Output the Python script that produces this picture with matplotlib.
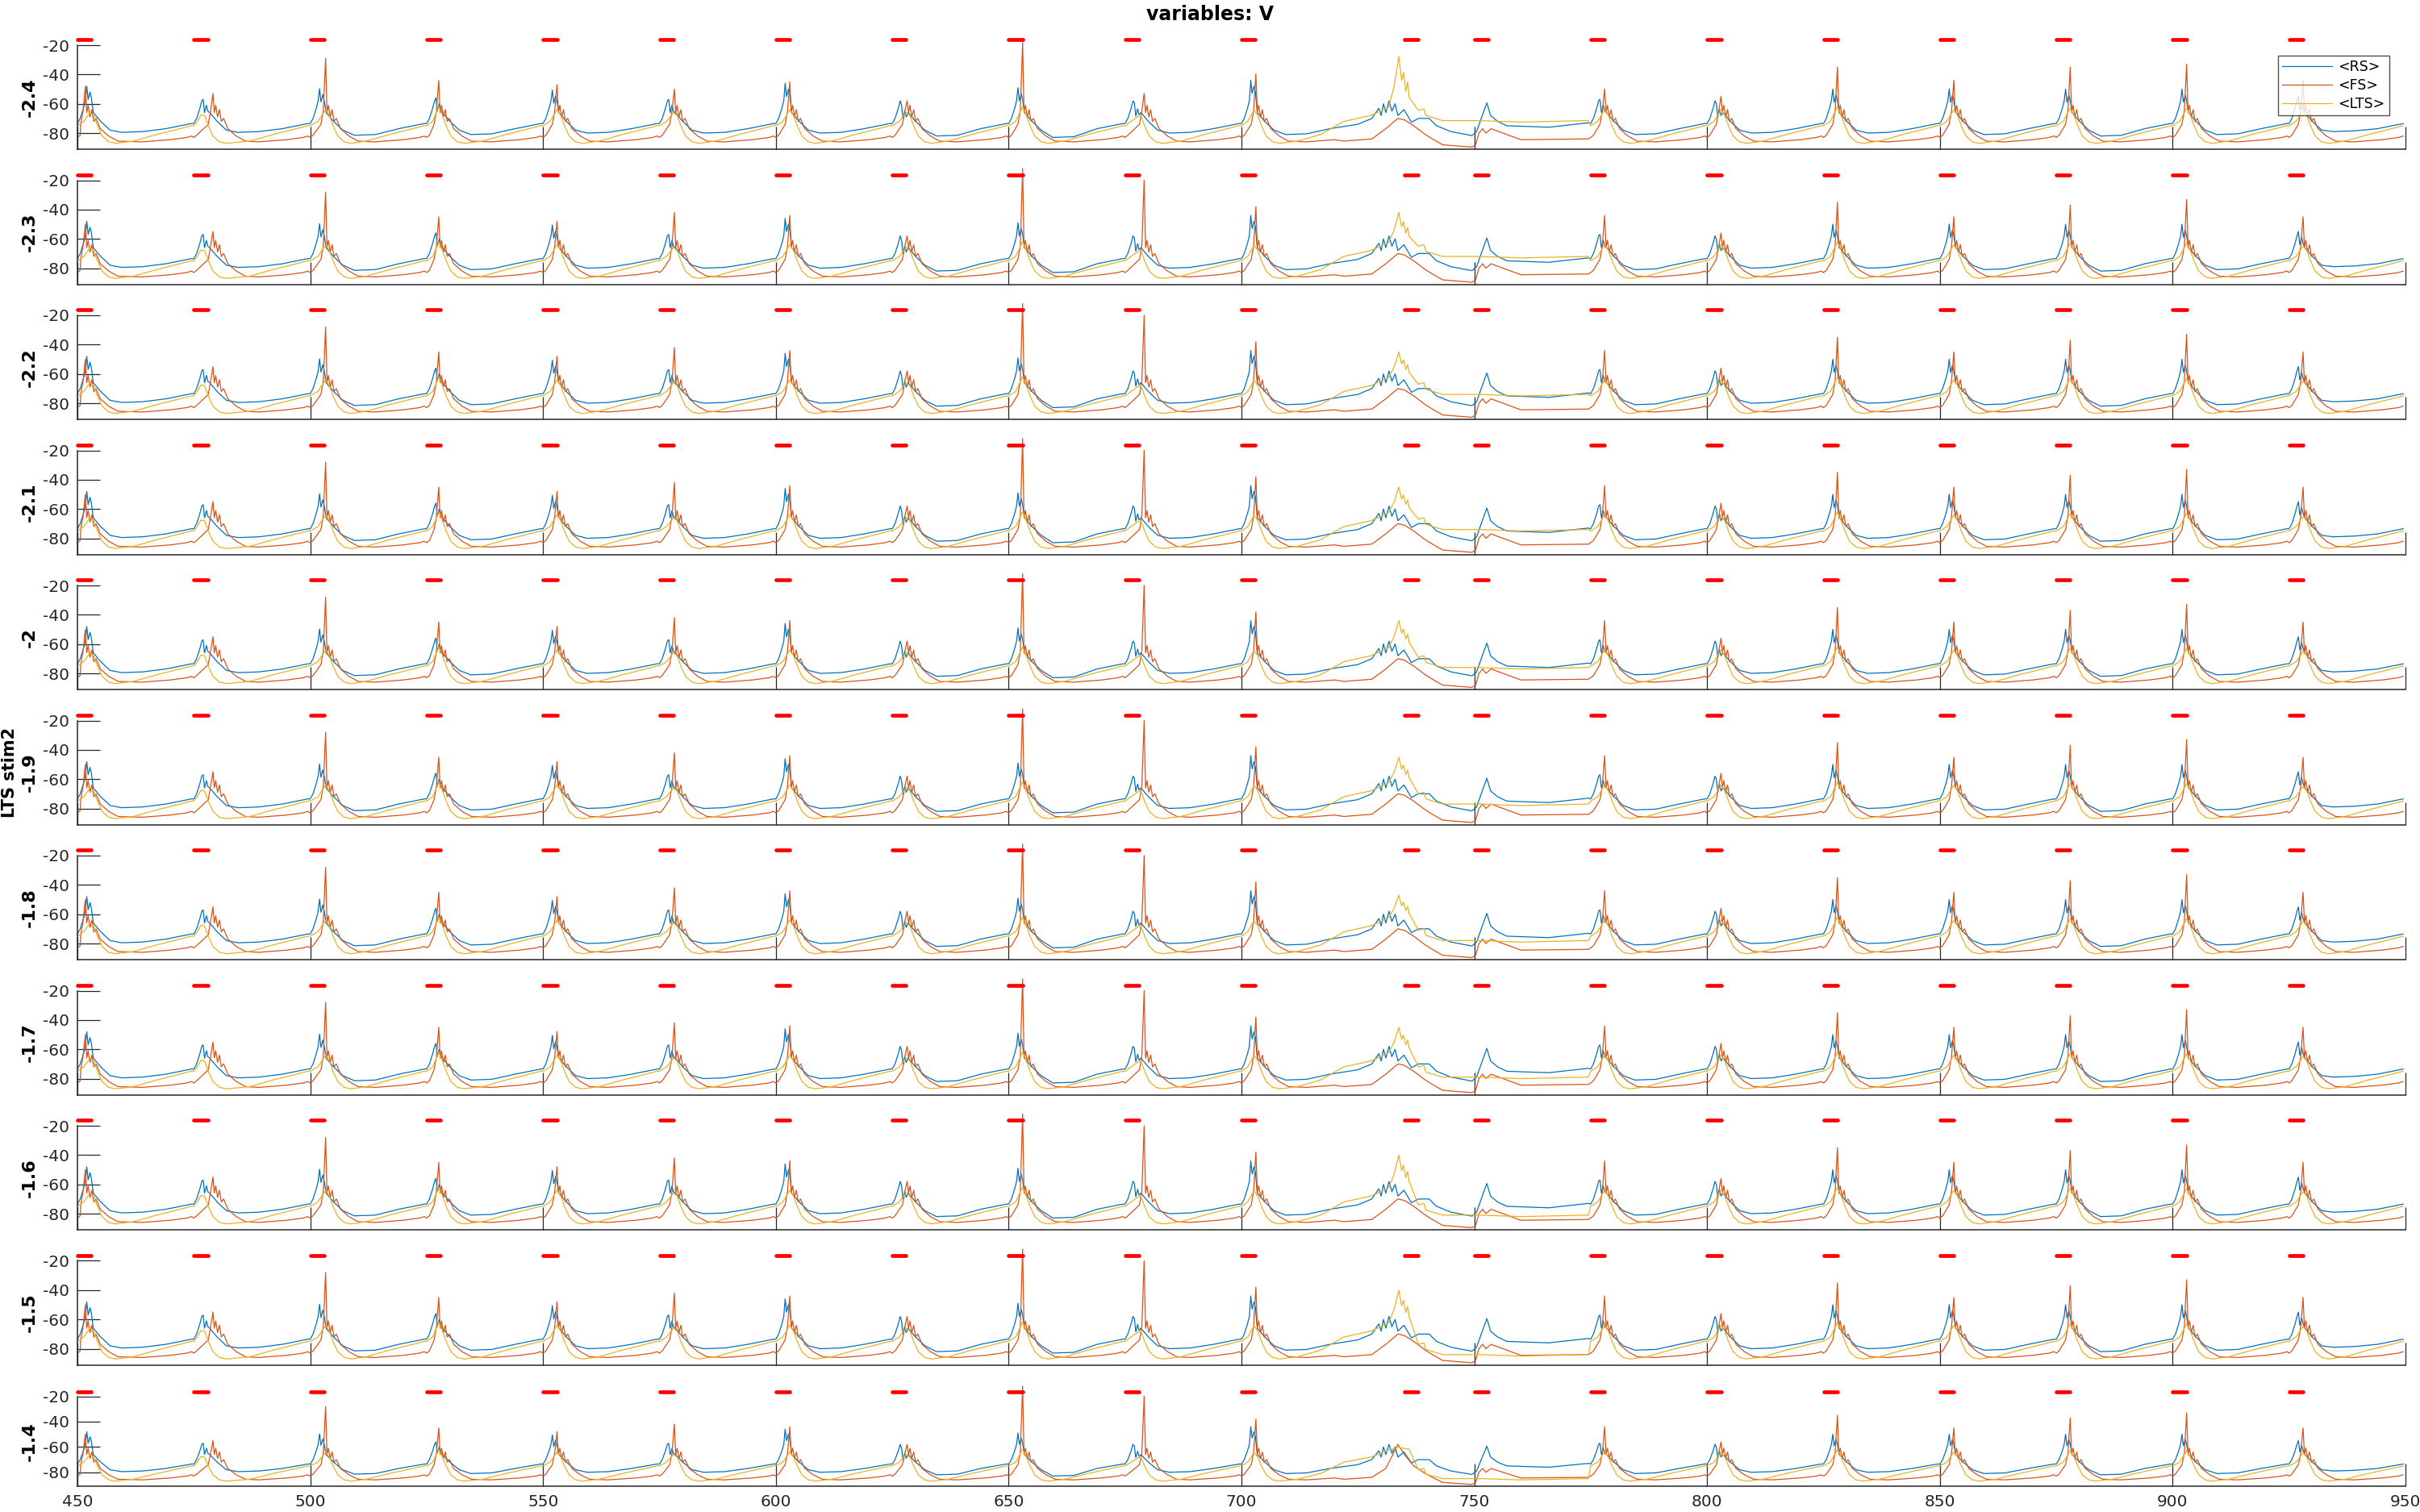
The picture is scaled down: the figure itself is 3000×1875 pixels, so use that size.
import numpy as np
import matplotlib
matplotlib.use("Agg")
import matplotlib.pyplot as plt

# ---- data ----
panel_labels = ['-2.4', '-2.3', '-2.2', '-2.1', '-2', '-1.9', '-1.8', '-1.7', '-1.6', '-1.5', '-1.4']
series_names = ['<RS>', '<FS>', '<LTS>']
colors = ['#0072BD', '#D95319', '#EDB120']

stim_times = [450, 475, 500, 525, 550, 575, 600, 625, 650, 675, 700, 735,
              750, 775, 800, 825, 850, 875, 900, 925]
stim_len = 3.0

# regular cycles (725 and 750 behave differently, see the *_anom arrays)
cycle_starts = [450, 475, 500, 525, 550, 575, 600, 625, 650, 675, 700,
                775, 800, 825, 850, 875, 900, 925]
rs_peak = [-48, -57, -49.7, -56, -50.6, -57, -46, -61, -49, -59.4, -44,
           -57, -60, -50, -50, -50, -50, -55]
rs_trough = [-79.5, -79.5, -81.5, -81, -80, -80, -80, -82, -83, -80, -81,
             -81, -80, -80, -81, -82, -81, -79]
fs_peak = [-48, -53, -29, -44, -47, -50, -45, -58, -18, -53, -39.6,
           -50, -55, -35, -44, -35, -33, -44]
fs_peak_low = [-50, -55, -28, -45, -48, -42, -44, -58, -12, -20, -38,
               -44, -56, -35, -45, -37, -33, -45]
fs_tpk = [1.7, 4.1, 3.3, 2.6, 3.0, 3.2, 3.0, 3.2, 3.0, 4.1, 3.1,
          3.0, 3.0, 3.0, 3.0, 3.0, 3.0, 3.0]
lts_peak = [-66, -67.6, -64, -62, -64, -66, -64, -66, -62, -69, -64.3,
            -64, -64, -62, -64, -63, -63, -65]
lts_tpk = [2.7, 1.5, 3.3, 2.6, 3.0, 3.0, 3.0, 3.0, 3.0, 2.6, 2.7,
           3.0, 3.0, 3.0, 3.0, 3.0, 3.0, 3.0]

# irregular window 722..775
rs_anom_t = [722, 725, 728, 729.5, 730, 730.5, 731, 731.7, 732.3, 733, 733.6, 734.9,
             736.5, 738, 740.3, 741.9, 745, 749.5, 750.5, 751.5, 752.7, 753.5, 755,
             757, 766, 774.5]
rs_anom_v = [-75.5, -74, -70, -63, -68, -60, -66, -58, -65, -60, -68, -64,
             -72.6, -70, -70, -75, -79, -81.7, -79, -70, -59.4, -68, -72,
             -75, -76, -73]
fs_anom_t = [722, 728, 731, 733.6, 735, 737, 739.4, 741, 743.2, 749.5, 750.3, 751,
             751.8, 752.5, 753.6, 757, 760, 774.5]
fs_anom_v = [-85.5, -84, -77, -70, -71, -75, -80.8, -84, -88, -89.6, -88, -80,
             -77, -80, -77, -81, -84.5, -84]
lts_anom_t = [722, 727.8, 731.6, 732.8, 733.8, 734.4, 734.8, 735.3, 735.7, 736,
              738, 739.2, 739.6, 743.2, 751, 760, 774.5]
lts_spike_frac = [0.42, 1.0, 0.53, 0.69, 0.32, 0.5, 0.2]
lts_spike = [-27.7, -42, -45, -45, -44, -45, -47, -45, -40, -40, -60]
lts_plateau = [-71.5, -72, -74, -74, -76, -77, -78, -79, -81, -84, -85]


def rs_points(t0, peak, trough):
    t = [0.0, 0.6, 1.0, 1.3, 1.7, 2.0, 2.3, 2.7, 3.0, 3.4, 5.0, 7.0, 9.5, 14.0, 19.0, 24.5]
    v = [-73.5, -70, -66, -63, -58, peak, peak - 9, peak - 4, peak - 8, -66, -72, -78,
         trough, trough + 0.5, -77, -73.5]
    return [t0 + x for x in t], v


def fs_points(t0, peak, tp):
    t = [0.0, 0.6, tp - 1.0, tp - 0.5, tp, tp + 0.3, tp + 0.6, tp + 1.0, tp + 1.4,
         tp + 1.8, tp + 2.3, tp + 3.2, tp + 5.0, tp + 7.0, 14.0, 20.0, 23.5, 24.5]
    v = [-83, -81.5, -74, -65, peak, -66, -61, -69, -64, -72, -70, -77, -82,
         -85.5, -86, -84.5, -83, -82]
    return [t0 + x for x in t], v


def lts_points(t0, peak, tp):
    t = [0.0, tp * 0.5, tp, tp + 0.8, tp + 1.6, tp + 2.6, tp + 4.0, tp + 5.5,
         12.0, 17.0, 22.0, 24.5]
    v = [-75, -72, peak, -68, -75, -82, -86, -87, -85.5, -81, -77, -75]
    return [t0 + x for x in t], v


def build(panel):
    rs_t, rs_v, fs_t, fs_v, lt_t, lt_v = [], [], [], [], [], []
    fsp = fs_peak if panel == 0 else fs_peak_low
    for k, t0 in enumerate(cycle_starts):
        a, b = rs_points(t0, rs_peak[k], rs_trough[k])
        rs_t += a; rs_v += b
        a, b = fs_points(t0, fsp[k], fs_tpk[k])
        fs_t += a; fs_v += b
        a, b = lts_points(t0, lts_peak[k], lts_tpk[k])
        lt_t += a; lt_v += b

    S = lts_spike[panel]
    L = lts_plateau[panel]
    spike_v = [-62.5 + f * (S + 62.5) for f in lts_spike_frac]
    lts_anom_v = [-72, -68, -62.5] + spike_v + [L + 7, L + 8, L + 3.5, L, L, L - 1, L]

    fav = list(fs_anom_v)
    if panel == 10:
        fav[3] = -58
        fav[4] = -66

    out = []
    for t, v, at, av in [(rs_t, rs_v, rs_anom_t, rs_anom_v),
                         (fs_t, fs_v, fs_anom_t, fav),
                         (lt_t, lt_v, lts_anom_t, lts_anom_v)]:
        t = np.array(t); v = np.array(v)
        keep = (t < 722) | (t >= 775)
        tt = np.concatenate([t[keep], at])
        vv = np.concatenate([v[keep], av])
        order = np.argsort(tt, kind='stable')
        out.append((tt[order], vv[order]))
    return out


# ---- figure ----
plt.rcParams['font.family'] = ['DejaVu Sans']
plt.rcParams['axes.unicode_minus'] = False

W, H = 3000, 1875
fig = plt.figure(figsize=(W / 100, H / 100), dpi=100)

ax_left, ax_right = 96, 2982
tick_col = '#262626'

for i, lab in enumerate(panel_labels):
    if i < 10:
        top = 56 + 167.5 * i
        bot = 185 + 167.5 * i
    else:
        top = 1731.5
        bot = 1843
    ax = fig.add_axes([ax_left / W, 1 - bot / H, (ax_right - ax_left) / W, (bot - top) / H])

    traces = build(i)
    for (t, v), c, name in zip(traces, colors, series_names):
        ax.plot(t, v, color=c, lw=0.9, label=name, clip_on=False)

    for s in stim_times:
        ax.plot([s, s + stim_len], [-16.2, -16.2], color='red', lw=3.4,
                solid_capstyle='round', clip_on=False)

    ax.set_xlim(450, 950)
    ax.set_ylim(-91, -20)
    ax.set_yticks([-80, -60, -40, -20])
    ax.set_xticks(np.arange(450, 951, 50))
    for sp in ['top', 'right']:
        ax.spines[sp].set_visible(False)
    for sp in ['left', 'bottom']:
        ax.spines[sp].set_color(tick_col)
        ax.spines[sp].set_linewidth(1.1)
    ax.tick_params(direction='in', length=20.5, width=0.9, color=tick_col,
                   labelcolor=tick_col, labelsize=14.5, pad=7)
    if i < 10:
        ax.tick_params(axis='x', labelbottom=False)
    else:
        ax.tick_params(axis='x', pad=7)

    yc = 1 - (top + bot) / 2 / H
    if lab == '-1.9':
        fig.text(12 / W, yc, 'LTS stim2', rotation=90, ha='center', va='center',
                 fontsize=15, fontweight='bold')
    fig.text(37 / W, yc, lab, rotation=90, ha='center', va='center',
             fontsize=16, fontweight='bold')

    if i == 0:
        leg = ax.legend(loc='upper right',
                        bbox_to_anchor=((2962 - ax_left) / (ax_right - ax_left), (185 - 69) / 129),
                        borderaxespad=0, fontsize=12.5, frameon=True, fancybox=False,
                        edgecolor='#262626', handlelength=3.6, handletextpad=0.42,
                        labelspacing=0.28, borderpad=0.3)
        leg.get_frame().set_linewidth(1.0)

fig.text(0.5, 1 - 18 / H, 'variables: V', ha='center', va='center',
         fontsize=17, fontweight='bold')

fig.savefig('out.png', dpi=100, facecolor='white')
